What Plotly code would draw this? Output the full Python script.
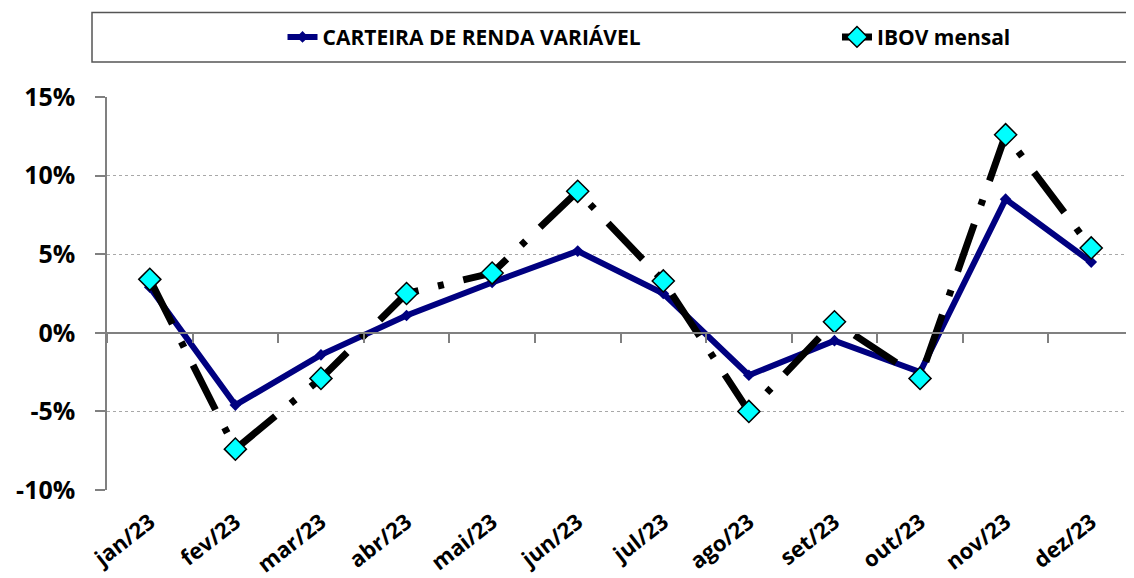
import plotly.graph_objects as go

months = ["jan/23", "fev/23", "mar/23", "abr/23", "mai/23", "jun/23",
          "jul/23", "ago/23", "set/23", "out/23", "nov/23", "dez/23"]
carteira = [2.9, -4.6, -1.4, 1.1, 3.2, 5.2, 2.5, -2.7, -0.5, -2.5, 8.5, 4.5]
ibov = [3.4, -7.4, -2.9, 2.5, 3.8, 9.0, 3.3, -5.0, 0.7, -2.9, 12.6, 5.4]
yticks = [-10, -5, 0, 5, 10, 15]
yticklabels = ["-10%", "-5%", "0%", "5%", "10%", "15%"]

FONT = "'Open Sans', Lato, sans-serif"
NAVY = "#000080"

fig = go.Figure()
fig.add_trace(go.Scatter(
    x=months, y=carteira, name="CARTEIRA DE RENDA VARIÁVEL",
    mode="lines+markers", xaxis="x", yaxis="y", legend="legend",
    line=dict(color=NAVY, width=6),
    marker=dict(symbol="diamond", size=9, color=NAVY),
))
fig.add_trace(go.Scatter(
    x=months, y=ibov, name="IBOV mensal",
    mode="lines+markers", xaxis="x2", yaxis="y", legend="legend2",
    line=dict(color="black", width=7, dash="50px,20px,6px,20px"),
    marker=dict(symbol="diamond", size=17, color="#00FFFF",
                line=dict(color="black", width=1.5)),
))

legend_font = dict(family=FONT, size=21, color="black", weight="bold")

# page body adds an 8px offset, so the figure is 8px smaller than the window
fig.update_layout(
    width=1126, height=570,
    margin=dict(l=99, r=0, t=89, b=86),
    paper_bgcolor="white", plot_bgcolor="white",
    font=dict(family=FONT, color="black"),
    showlegend=True,
    legend=dict(
        orientation="h", x=0.1709, xanchor="left", y=1.152, yanchor="middle",
        font=legend_font, bgcolor="rgba(0,0,0,0)", borderwidth=0,
    ),
    legend2=dict(
        orientation="h", x=0.7108, xanchor="left", y=1.152, yanchor="middle",
        font=legend_font, bgcolor="rgba(0,0,0,0)", borderwidth=0,
    ),
    xaxis=dict(
        type="category", categoryorder="array", categoryarray=months,
        range=[-0.5, 11.5], showline=False, ticks="", showgrid=False,
        zeroline=False, tickangle=-38,
        tickfont=dict(family=FONT, size=22, color="black", weight="bold"),
        ticklabelstandoff=14,
    ),
    xaxis2=dict(
        type="category", categoryorder="array", categoryarray=months,
        range=[-0.5, 11.5], overlaying="x", anchor="free", position=0.4,
        side="bottom", showline=True, linecolor="#808080", linewidth=1.5,
        ticks="outside", ticklen=9, tickcolor="#808080", tickwidth=1.5,
        tickson="boundaries", showticklabels=False, showgrid=False,
        zeroline=False,
    ),
    yaxis=dict(
        range=[-10, 15], tickvals=yticks, ticktext=yticklabels,
        showline=True, linecolor="#808080", linewidth=1.5,
        ticks="outside", ticklen=10, tickcolor="#808080", tickwidth=1.5,
        showgrid=True, gridcolor="#a8a8a8", griddash="dot", gridwidth=1,
        zeroline=False,
        tickfont=dict(family=FONT, size=25, color="black", weight="bold"),
        ticklabelstandoff=15,
    ),
    shapes=[dict(
        type="rect", xref="paper", yref="paper",
        x0=-0.0146, x1=1.01, y0=1.089, y1=1.215,
        line=dict(color="#555555", width=1.5), fillcolor="rgba(0,0,0,0)",
        layer="below",
    )],
)

fig.write_html("out.html")
